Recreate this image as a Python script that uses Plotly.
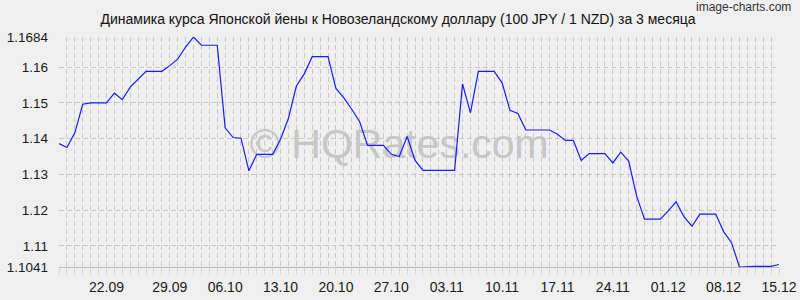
import plotly.graph_objects as go

# Daily values 15.09 .. 15.12 (index 0..91)
days = list(range(92))
rate = [
    1.1386, 1.1375, 1.1416, 1.1496, 1.1500, 1.1500, 1.1500, 1.1527, 1.1509, 1.1544,
    1.1566, 1.1588, 1.1588, 1.1588, 1.1604, 1.1622, 1.1656, 1.1684, 1.1661, 1.1661,
    1.1661, 1.1430, 1.1403, 1.1401, 1.1310, 1.1356, 1.1356, 1.1356, 1.1398, 1.1457,
    1.1547, 1.1581, 1.1629, 1.1629, 1.1629, 1.1540, 1.1514, 1.1482, 1.1447, 1.1381,
    1.1381, 1.1381, 1.1356, 1.1350, 1.1406, 1.1339, 1.1311, 1.1311, 1.1311, 1.1311,
    1.1311, 1.1553, 1.1472, 1.1588, 1.1588, 1.1588, 1.1556, 1.1479, 1.1470, 1.1424,
    1.1424, 1.1424, 1.1424, 1.1412, 1.1395, 1.1395, 1.1339, 1.1358, 1.1358, 1.1358,
    1.1332, 1.1362, 1.1337, 1.1240, 1.1175, 1.1175, 1.1175, 1.1198, 1.1223, 1.1181,
    1.1155, 1.1189, 1.1189, 1.1189, 1.1140, 1.1109, 1.1041, 1.1043, 1.1043, 1.1043,
    1.1043, 1.1048,
]

x_tick_pos = [6, 14, 21, 28, 35, 42, 49, 56, 63, 70, 77, 84, 91]
x_tick_text = ["22.09", "29.09", "06.10", "13.10", "20.10", "27.10", "03.11",
               "10.11", "17.11", "24.11", "01.12", "08.12", "15.12"]
y_tick_vals = [1.1041, 1.11, 1.12, 1.13, 1.14, 1.15, 1.16, 1.1684]
y_tick_text = ["1.1041", "1.11", "1.12", "1.13", "1.14", "1.15", "1.16", "1.1684"]

title = "Динамика курса Японской йены к Новозеландскому доллару (100 JPY / 1 NZD) за 3 месяца"
BG = "#efefef"
GRID = "#c8c8c8"
FONT = "Liberation Sans, Arial, sans-serif"

fig = go.Figure()
# watermark under the line
fig.add_trace(go.Scatter(
    x=[43.0], y=[1.1374], mode="text", text=["© HQRates.com"],
    textfont=dict(family=FONT, size=41, color="#c6c6c6"),
    hoverinfo="skip", showlegend=False,
))
fig.add_trace(go.Scatter(
    x=days, y=rate, mode="lines",
    line=dict(color="#1a1aff", width=1.2),
    showlegend=False,
))

fig.update_layout(
    width=800, height=300,
    margin=dict(l=59, r=21, t=37, b=33, pad=0),
    paper_bgcolor=BG, plot_bgcolor=BG,
    font=dict(family=FONT, size=14, color="#1a1a1a"),
    title=dict(text=title, x=0.4975, xanchor="center", y=1 - 19 / 300,
               yanchor="middle", yref="container", automargin=False,
               font=dict(family=FONT, size=14, color="#111111")),
    annotations=[dict(
        text="image-charts.com", xref="paper", yref="paper",
        x=1.0 + 14 / 720, y=1.0 + 30 / 230, xanchor="right", yanchor="middle",
        showarrow=False,
        font=dict(family="Liberation Sans Narrow, Arial Narrow, sans-serif", size=12, color="#333333"),
    )],
)
fig.update_xaxes(
    range=[0, 91], tickvals=x_tick_pos, ticktext=x_tick_text, automargin=False,
    showgrid=True, gridcolor=GRID, griddash="5px,3px", gridwidth=1,
    zeroline=False, showline=True, linecolor="#bdbdbd", linewidth=1,
    ticks="outside", ticklen=7, tickcolor="#d6d6d6", ticklabelstandoff=0,
    tickfont=dict(family=FONT, size=14, color="#1a1a1a"),
    minor=dict(dtick=1, tick0=0, showgrid=True, gridcolor=GRID, griddash="5px,3px",
               gridwidth=1, ticks="outside", ticklen=7, tickcolor="#d6d6d6"),
)
fig.update_yaxes(
    range=[1.1041, 1.1684], tickvals=y_tick_vals, ticktext=y_tick_text, automargin=False,
    showgrid=True, gridcolor=GRID, griddash="5px,3px", gridwidth=1,
    zeroline=False, showline=False, ticks="", ticklabelstandoff=10,
    tickfont=dict(family=FONT, size=13.5, color="#1a1a1a"),
)

fig.write_html("out.html")
